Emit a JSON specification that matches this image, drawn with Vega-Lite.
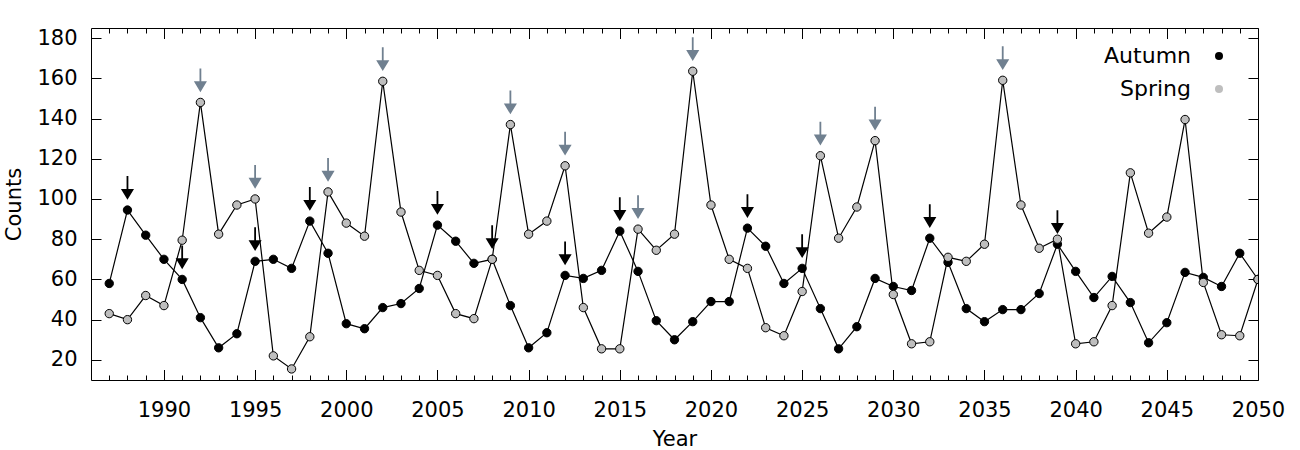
{
  "$schema": "https://vega.github.io/schema/vega-lite/v6.json",
  "width": 1167,
  "height": 352,
  "autosize": {"type": "none"},
  "padding": {"left": 91, "top": 28, "right": 42, "bottom": 70},
  "config": {
    "font": "DejaVu Sans",
    "background": "white",
    "view": {"stroke": "black", "strokeWidth": 1},
    "axis": {
      "grid": false,
      "domain": false,
      "tickColor": "black",
      "tickWidth": 1,
      "labelColor": "black",
      "titleColor": "black",
      "labelFontSize": 21,
      "titleFontSize": 21,
      "titleFontWeight": "normal",
      "labelFlush": false,
      "labelOverlap": false
    },
    "legend": {
      "labelFontSize": 22,
      "labelColor": "black",
      "padding": 0
    }
  },
  "data": {
    "values": [
      {"year": 1987, "season": "Autumn", "count": 58},
      {"year": 1988, "season": "Autumn", "count": 94.5, "arrow": true},
      {"year": 1989, "season": "Autumn", "count": 82},
      {"year": 1990, "season": "Autumn", "count": 70},
      {"year": 1991, "season": "Autumn", "count": 60, "arrow": true},
      {"year": 1992, "season": "Autumn", "count": 41},
      {"year": 1993, "season": "Autumn", "count": 26},
      {"year": 1994, "season": "Autumn", "count": 33},
      {"year": 1995, "season": "Autumn", "count": 69, "arrow": true},
      {"year": 1996, "season": "Autumn", "count": 70},
      {"year": 1997, "season": "Autumn", "count": 65.5},
      {"year": 1998, "season": "Autumn", "count": 89, "arrow": true},
      {"year": 1999, "season": "Autumn", "count": 73},
      {"year": 2000, "season": "Autumn", "count": 38},
      {"year": 2001, "season": "Autumn", "count": 35.5},
      {"year": 2002, "season": "Autumn", "count": 46},
      {"year": 2003, "season": "Autumn", "count": 48},
      {"year": 2004, "season": "Autumn", "count": 55.5},
      {"year": 2005, "season": "Autumn", "count": 87, "arrow": true},
      {"year": 2006, "season": "Autumn", "count": 79},
      {"year": 2007, "season": "Autumn", "count": 68},
      {"year": 2008, "season": "Autumn", "count": 70, "arrow": true},
      {"year": 2009, "season": "Autumn", "count": 47},
      {"year": 2010, "season": "Autumn", "count": 26},
      {"year": 2011, "season": "Autumn", "count": 33.5},
      {"year": 2012, "season": "Autumn", "count": 62, "arrow": true},
      {"year": 2013, "season": "Autumn", "count": 60.5},
      {"year": 2014, "season": "Autumn", "count": 64.5},
      {"year": 2015, "season": "Autumn", "count": 84, "arrow": true},
      {"year": 2016, "season": "Autumn", "count": 64},
      {"year": 2017, "season": "Autumn", "count": 39.5},
      {"year": 2018, "season": "Autumn", "count": 30},
      {"year": 2019, "season": "Autumn", "count": 39},
      {"year": 2020, "season": "Autumn", "count": 49},
      {"year": 2021, "season": "Autumn", "count": 49},
      {"year": 2022, "season": "Autumn", "count": 85.5, "arrow": true},
      {"year": 2023, "season": "Autumn", "count": 76.5},
      {"year": 2024, "season": "Autumn", "count": 58},
      {"year": 2025, "season": "Autumn", "count": 65.5, "arrow": true},
      {"year": 2026, "season": "Autumn", "count": 45.5},
      {"year": 2027, "season": "Autumn", "count": 25.5},
      {"year": 2028, "season": "Autumn", "count": 36.5},
      {"year": 2029, "season": "Autumn", "count": 60.5},
      {"year": 2030, "season": "Autumn", "count": 56.5},
      {"year": 2031, "season": "Autumn", "count": 54.5},
      {"year": 2032, "season": "Autumn", "count": 80.5, "arrow": true},
      {"year": 2033, "season": "Autumn", "count": 68.5},
      {"year": 2034, "season": "Autumn", "count": 45.5},
      {"year": 2035, "season": "Autumn", "count": 39},
      {"year": 2036, "season": "Autumn", "count": 45},
      {"year": 2037, "season": "Autumn", "count": 45},
      {"year": 2038, "season": "Autumn", "count": 53},
      {"year": 2039, "season": "Autumn", "count": 77.5, "arrow": true},
      {"year": 2040, "season": "Autumn", "count": 64},
      {"year": 2041, "season": "Autumn", "count": 51},
      {"year": 2042, "season": "Autumn", "count": 61.5},
      {"year": 2043, "season": "Autumn", "count": 48.5},
      {"year": 2044, "season": "Autumn", "count": 28.5},
      {"year": 2045, "season": "Autumn", "count": 38.5},
      {"year": 2046, "season": "Autumn", "count": 63.5},
      {"year": 2047, "season": "Autumn", "count": 61},
      {"year": 2048, "season": "Autumn", "count": 56.5},
      {"year": 2049, "season": "Autumn", "count": 73},
      {"year": 2050, "season": "Autumn", "count": 60},
      {"year": 1987, "season": "Spring", "count": 43},
      {"year": 1988, "season": "Spring", "count": 40},
      {"year": 1989, "season": "Spring", "count": 52},
      {"year": 1990, "season": "Spring", "count": 47},
      {"year": 1991, "season": "Spring", "count": 79.5},
      {"year": 1992, "season": "Spring", "count": 148, "arrow": true},
      {"year": 1993, "season": "Spring", "count": 82.5},
      {"year": 1994, "season": "Spring", "count": 97},
      {"year": 1995, "season": "Spring", "count": 100, "arrow": true},
      {"year": 1996, "season": "Spring", "count": 22},
      {"year": 1997, "season": "Spring", "count": 15.5},
      {"year": 1998, "season": "Spring", "count": 31.5},
      {"year": 1999, "season": "Spring", "count": 103.5, "arrow": true},
      {"year": 2000, "season": "Spring", "count": 88},
      {"year": 2001, "season": "Spring", "count": 81.5},
      {"year": 2002, "season": "Spring", "count": 158.5, "arrow": true},
      {"year": 2003, "season": "Spring", "count": 93.5},
      {"year": 2004, "season": "Spring", "count": 64.5},
      {"year": 2005, "season": "Spring", "count": 62},
      {"year": 2006, "season": "Spring", "count": 43},
      {"year": 2007, "season": "Spring", "count": 40.5},
      {"year": 2008, "season": "Spring", "count": 70},
      {"year": 2009, "season": "Spring", "count": 137, "arrow": true},
      {"year": 2010, "season": "Spring", "count": 82.5},
      {"year": 2011, "season": "Spring", "count": 89},
      {"year": 2012, "season": "Spring", "count": 116.5, "arrow": true},
      {"year": 2013, "season": "Spring", "count": 46},
      {"year": 2014, "season": "Spring", "count": 25.5},
      {"year": 2015, "season": "Spring", "count": 25.5},
      {"year": 2016, "season": "Spring", "count": 85, "arrow": true},
      {"year": 2017, "season": "Spring", "count": 74.5},
      {"year": 2018, "season": "Spring", "count": 82.5},
      {"year": 2019, "season": "Spring", "count": 163.5, "arrow": true},
      {"year": 2020, "season": "Spring", "count": 97},
      {"year": 2021, "season": "Spring", "count": 70},
      {"year": 2022, "season": "Spring", "count": 65.5},
      {"year": 2023, "season": "Spring", "count": 36},
      {"year": 2024, "season": "Spring", "count": 32},
      {"year": 2025, "season": "Spring", "count": 54},
      {"year": 2026, "season": "Spring", "count": 121.5, "arrow": true},
      {"year": 2027, "season": "Spring", "count": 80.5},
      {"year": 2028, "season": "Spring", "count": 96},
      {"year": 2029, "season": "Spring", "count": 129, "arrow": true},
      {"year": 2030, "season": "Spring", "count": 52.5},
      {"year": 2031, "season": "Spring", "count": 28},
      {"year": 2032, "season": "Spring", "count": 29},
      {"year": 2033, "season": "Spring", "count": 71},
      {"year": 2034, "season": "Spring", "count": 69},
      {"year": 2035, "season": "Spring", "count": 77.5},
      {"year": 2036, "season": "Spring", "count": 159, "arrow": true},
      {"year": 2037, "season": "Spring", "count": 97},
      {"year": 2038, "season": "Spring", "count": 75.5},
      {"year": 2039, "season": "Spring", "count": 80},
      {"year": 2040, "season": "Spring", "count": 28},
      {"year": 2041, "season": "Spring", "count": 29},
      {"year": 2042, "season": "Spring", "count": 47},
      {"year": 2043, "season": "Spring", "count": 113},
      {"year": 2044, "season": "Spring", "count": 83},
      {"year": 2045, "season": "Spring", "count": 91},
      {"year": 2046, "season": "Spring", "count": 139.5},
      {"year": 2047, "season": "Spring", "count": 58.5},
      {"year": 2048, "season": "Spring", "count": 32.5},
      {"year": 2049, "season": "Spring", "count": 32},
      {"year": 2050, "season": "Spring", "count": 60}
    ]
  },
  "layer": [
    {
      "mark": {"type": "line", "color": "black", "strokeWidth": 1.2, "clip": true},
      "encoding": {
        "x": {
          "field": "year", "type": "quantitative",
          "scale": {"domain": [1986, 2050], "nice": false, "zero": false},
          "axis": {
            "orient": "bottom",
            "values": [1990, 1995, 2000, 2005, 2010, 2015, 2020, 2025, 2030, 2035, 2040, 2045, 2050],
            "format": "d",
            "tickSize": -10.5,
            "labelPadding": 30,
            "title": "Year",
            "titlePadding": 8
          }
        },
        "y": {
          "field": "count", "type": "quantitative",
          "scale": {"domain": [10, 185], "nice": false, "zero": false},
          "axis": {
            "orient": "left",
            "values": [20, 40, 60, 80, 100, 120, 140, 160, 180],
            "tickSize": -10,
            "labelPadding": 24,
            "title": "Counts",
            "titlePadding": 12
          }
        },
        "detail": {"field": "season", "type": "nominal"}
      }
    },
    {
      "mark": {"type": "point", "shape": "circle", "filled": true, "size": 70, "stroke": "black", "strokeWidth": 1, "opacity": 1, "clip": true},
      "encoding": {
        "x": {
          "field": "year", "type": "quantitative",
          "scale": {"domain": [1986, 2050], "nice": false, "zero": false},
          "axis": {
            "orient": "bottom",
            "values": [1987, 1988, 1989, 1991, 1992, 1993, 1994, 1996, 1997, 1998, 1999, 2001, 2002, 2003, 2004, 2006, 2007, 2008, 2009, 2011, 2012, 2013, 2014, 2016, 2017, 2018, 2019, 2021, 2022, 2023, 2024, 2026, 2027, 2028, 2029, 2031, 2032, 2033, 2034, 2036, 2037, 2038, 2039, 2041, 2042, 2043, 2044, 2046, 2047, 2048, 2049],
            "tickSize": -5,
            "labels": false,
            "title": null
          }
        },
        "y": {
          "field": "count", "type": "quantitative",
          "scale": {"domain": [10, 185], "nice": false, "zero": false},
          "axis": {
            "orient": "right",
            "values": [20, 40, 60, 80, 100, 120, 140, 160, 180],
            "tickSize": -10,
            "labels": false,
            "title": null
          }
        },
        "color": {
          "field": "season", "type": "nominal",
          "scale": {"domain": ["Autumn", "Spring"], "range": ["black", "#bebebe"]},
          "legend": {
            "title": null,
            "orient": "none",
            "legendX": 1117,
            "legendY": 17,
            "symbolType": "circle",
            "symbolSize": 64,
            "symbolStrokeWidth": 0,
            "labelAlign": "right",
            "labelOffset": -39,
            "rowPadding": 11
          }
        }
      }
    },
    {
      "transform": [{"filter": "datum.arrow && datum.season == 'Autumn'"}],
      "mark": {"type": "point", "shape": "M0,-1L0,0.3M-0.45,0.25L0.45,0.25L0,1Z", "size": 484, "filled": true, "fill": "black", "stroke": "black", "strokeWidth": 1.8, "opacity": 1, "yOffset": -23},
      "encoding": {
        "x": {
          "field": "year", "type": "quantitative",
          "scale": {"domain": [1986, 2050], "nice": false, "zero": false},
          "axis": {
            "orient": "top",
            "values": [1990, 1995, 2000, 2005, 2010, 2015, 2020, 2025, 2030, 2035, 2040, 2045, 2050],
            "tickSize": -10.5,
            "labels": false,
            "title": null
          }
        },
        "y": {
          "field": "count", "type": "quantitative",
          "scale": {"domain": [10, 185], "nice": false, "zero": false},
          "axis": null
        }
      }
    },
    {
      "transform": [{"filter": "datum.arrow && datum.season == 'Spring'"}],
      "mark": {"type": "point", "shape": "M0,-1L0,0.3M-0.45,0.25L0.45,0.25L0,1Z", "size": 484, "filled": true, "fill": "#708090", "stroke": "#708090", "strokeWidth": 1.8, "opacity": 1, "yOffset": -23},
      "encoding": {
        "x": {
          "field": "year", "type": "quantitative",
          "scale": {"domain": [1986, 2050], "nice": false, "zero": false},
          "axis": {
            "orient": "top",
            "values": [1987, 1988, 1989, 1991, 1992, 1993, 1994, 1996, 1997, 1998, 1999, 2001, 2002, 2003, 2004, 2006, 2007, 2008, 2009, 2011, 2012, 2013, 2014, 2016, 2017, 2018, 2019, 2021, 2022, 2023, 2024, 2026, 2027, 2028, 2029, 2031, 2032, 2033, 2034, 2036, 2037, 2038, 2039, 2041, 2042, 2043, 2044, 2046, 2047, 2048, 2049],
            "tickSize": -5,
            "labels": false,
            "title": null
          }
        },
        "y": {
          "field": "count", "type": "quantitative",
          "scale": {"domain": [10, 185], "nice": false, "zero": false},
          "axis": null
        }
      }
    }
  ],
  "resolve": {"axis": {"x": "independent", "y": "independent"}}
}
